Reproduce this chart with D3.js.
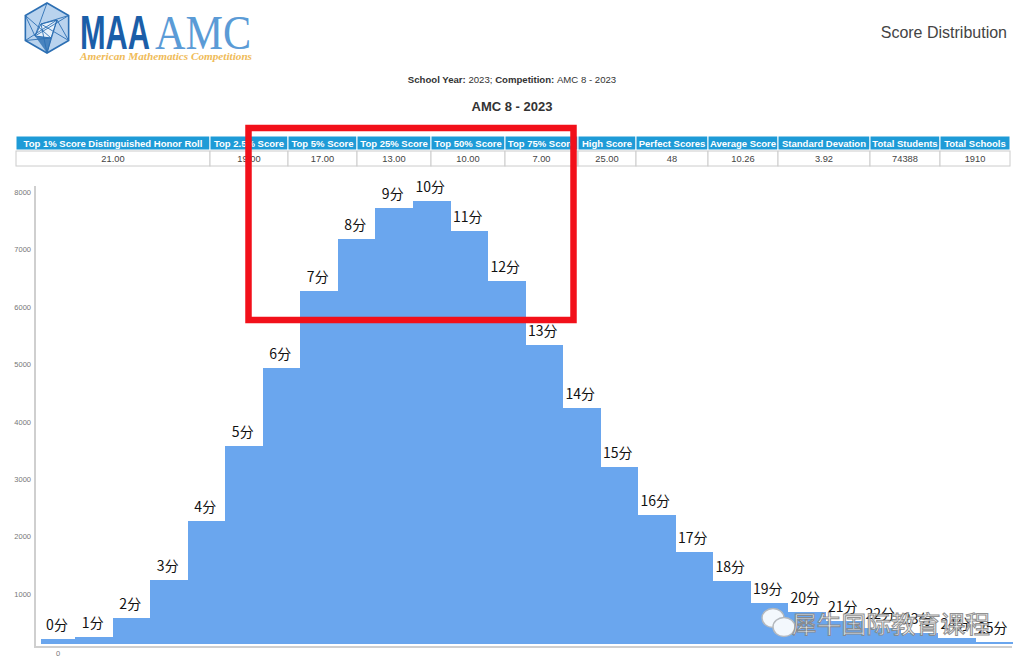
<!DOCTYPE html>
<html><head><meta charset="utf-8">
<script src="https://cdn.jsdelivr.net/npm/d3@7/dist/d3.min.js"></script>
<style>body{margin:0;background:#fff}svg{display:block}</style>
</head><body>
<svg id="c" width="1024" height="666"></svg>
<script>
// ---- data ----
const scores = d3.range(0, 26);
const counts = [100,145,476,1132,2160,3467,4826,6172,7073,7618,7740,7213,6347,5226,4129,3101,2265,1620,1115,732,575,418,290,210,130,48];
const barLabels = scores.map(s => s + "分");
const yTicks = [1000,2000,3000,4000,5000,6000,7000,8000];
const xTickLabels = ["0"];
const tableHeaders = ["Top 1% Score Distinguished Honor Roll","Top 2.5% Score","Top 5% Score","Top 25% Score","Top 50% Score","Top 75% Score","High Score","Perfect Scores","Average Score","Standard Devation","Total Students","Total Schools"];
const tableValues = ["21.00","19.00","17.00","13.00","10.00","7.00","25.00","48","10.26","3.92","74388","1910"];

// ---- layout ----
const colEdges = [16,210,288,357,431,505,578,636,708,778,870,940,1010];
const svg = d3.select("#c");
const SANS = "'Liberation Sans', Arial, sans-serif";

// Logo
const logo = svg.append("g");
const cx = 47, cy = 28, r = 25;
const hex = d3.range(6).map(i => { const a = Math.PI/6 + i*Math.PI/3; return [cx + r*Math.cos(a), cy + r*Math.sin(a)]; });
logo.append("polygon").attr("points", hex.map(p=>p.join(",")).join(" ")).attr("fill","#b9d3ee").attr("stroke","#2c6fb3").attr("stroke-width",1.6);
const inner = [[cx-6,cy-4],[cx+10,cy-8],[cx+4,cy+10],[cx-12,cy+8]];
logo.append("polygon").attr("points", inner.map(p=>p.join(",")).join(" ")).attr("fill","#e6f0fa").attr("stroke","#2c6fb3").attr("stroke-width",1);
[[0,0],[0,1],[1,1],[1,2],[2,2],[2,3],[3,3],[3,4],[3,5],[0,5],[1,0],[2,1]].forEach(([a,b])=>{
  logo.append("line").attr("x1",inner[a][0]).attr("y1",inner[a][1]).attr("x2",hex[b][0]).attr("y2",hex[b][1]).attr("stroke","#2c6fb3").attr("stroke-width",0.9);
});
logo.append("polygon").attr("points",[[cx-12,cy+8],[cx+4,cy+10],hex[1]].map(p=>p.join(",")).join(" ")).attr("fill","#2c6fb3").attr("opacity",0.8);
logo.append("text").attr("x",80).attr("y",49).attr("font-family",SANS).attr("font-weight","bold").attr("font-size",48).attr("fill","#1b5ea8").attr("textLength",70).attr("lengthAdjust","spacingAndGlyphs").text("MAA");
logo.append("text").attr("x",155).attr("y",49).attr("font-family","'Liberation Serif', serif").attr("font-size",49).attr("fill","#5b9bd6").attr("textLength",96).attr("lengthAdjust","spacingAndGlyphs").text("AMC");
logo.append("text").attr("x",80).attr("y",60).attr("font-family","'Liberation Serif', serif").attr("font-style","italic").attr("font-weight","bold").attr("font-size",9.5).attr("fill","#efbb58").attr("textLength",172).attr("lengthAdjust","spacingAndGlyphs").text("American Mathematics Competitions");

svg.append("text").attr("x",1007).attr("y",38).attr("text-anchor","end").attr("font-family",SANS).attr("font-size",16).attr("fill","#444").text("Score Distribution");

const sub = svg.append("text").attr("x",512).attr("y",83).attr("text-anchor","middle").attr("font-family",SANS).attr("font-size",9.6).attr("fill","#333");
sub.append("tspan").attr("font-weight","bold").text("School Year: ");
sub.append("tspan").text("2023; ");
sub.append("tspan").attr("font-weight","bold").text("Competition: ");
sub.append("tspan").text("AMC 8 - 2023");

svg.append("text").attr("x",512).attr("y",111).attr("text-anchor","middle").attr("font-family",SANS).attr("font-weight","bold").attr("font-size",13).attr("fill","#333").text("AMC 8 - 2023");

// Table
const tbl = svg.append("g");
tableHeaders.forEach((h,i)=>{
  const x0 = colEdges[i], x1 = colEdges[i+1];
  tbl.append("rect").attr("x",x0).attr("y",136).attr("width",x1-x0).attr("height",14).attr("fill","#1e9bd7").attr("stroke","#fff").attr("stroke-width",1);
  tbl.append("text").attr("x",(x0+x1)/2).attr("y",146.5).attr("text-anchor","middle").attr("font-family",SANS).attr("font-weight","bold").attr("font-size",9.5).attr("fill","#fff").text(h);
  tbl.append("rect").attr("x",x0).attr("y",151).attr("width",x1-x0).attr("height",15).attr("fill","#fff").attr("stroke","#ccc").attr("stroke-width",1);
  tbl.append("text").attr("x",(x0+x1)/2).attr("y",162).attr("text-anchor","middle").attr("font-family",SANS).attr("font-size",9.3).attr("fill","#444").text(tableValues[i]);
});

// Chart
const x = d3.scaleBand().domain(scores).range([37.5,1012.5]).padding(0);
const y = d3.scaleLinear().domain([0,8000]).range([645,186]);
const xl = i => Math.max(41, x(i));
const xc = i => (xl(i) + x(i) + x.bandwidth())/2;

svg.append("line").attr("x1",35).attr("x2",35).attr("y1",186).attr("y2",648).attr("stroke","#cfcfcf").attr("stroke-width",2);
svg.append("line").attr("x1",34).attr("x2",1012).attr("y1",647).attr("y2",647).attr("stroke","#cfcfcf").attr("stroke-width",2);

svg.append("g").selectAll("text").data(yTicks).join("text")
  .attr("x",31).attr("y",d=>y(d)+9).attr("text-anchor","end").attr("font-family",SANS).attr("font-size",7.5).attr("fill","#777").text(d=>d);
svg.append("g").selectAll("text").data(xTickLabels).join("text")
  .attr("x",d=>xc(+d)).attr("y",656).attr("text-anchor","middle").attr("font-family",SANS).attr("font-size",7.5).attr("fill","#777").text(d=>d);

svg.append("g").attr("shape-rendering","crispEdges").selectAll("rect").data(counts).join("rect")
  .attr("x",(d,i)=>xl(i)).attr("width",(d,i)=>x(i)+x.bandwidth()-xl(i)+0.5)
  .attr("y",d=>y(d)).attr("height",d=>Math.max(0,y(0)-1-y(d)))
  .attr("fill","#6aa6ee");

const lab = svg.append("g").selectAll("g").data(counts).join("g");
lab.append("rect").attr("x",(d,i)=>xc(i)-16).attr("y",d=>y(d)-24).attr("width",32).attr("height",20).attr("fill","#fff");
lab.append("text").attr("x",(d,i)=>xc(i)-1).attr("y",d=>y(d)-9)
  .attr("text-anchor","middle").attr("font-family","'Noto Sans CJK SC', 'Noto Sans', sans-serif").attr("font-size",14).attr("fill","#111")
  .text((d,i)=>barLabels[i]);

// red annotation box
svg.append("rect").attr("x",248.5).attr("y",128).attr("width",325).attr("height",192).attr("fill","none").attr("stroke","#f2101a").attr("stroke-width",6.5);

// watermark
const wm = svg.append("g").attr("opacity",0.92);
wm.append("ellipse").attr("cx",773).attr("cy",618).attr("rx",11).attr("ry",9.5).attr("fill","#fff").attr("stroke","#bbb").attr("stroke-width",1.5);
wm.append("ellipse").attr("cx",784).attr("cy",627).attr("rx",11).attr("ry",9.5).attr("fill","#fff").attr("stroke","#bbb").attr("stroke-width",1.5);
wm.append("text").attr("x",792).attr("y",633).attr("font-family","'Noto Sans CJK SC', sans-serif").attr("font-size",24).attr("fill","#fff").attr("stroke","#888").attr("stroke-width",1).attr("textLength",198).attr("lengthAdjust","spacingAndGlyphs").text("犀牛国际教育课程");
</script>
</body></html>
